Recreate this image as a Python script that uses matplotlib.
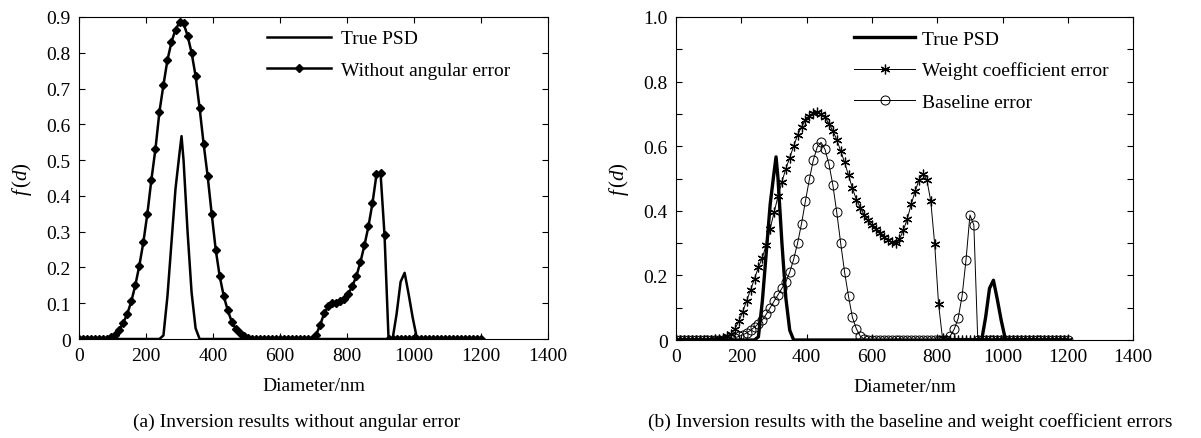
#!/usr/bin/env python3
"""Inversion results: true PSD vs. recovered PSD, with and without measurement errors."""

import matplotlib
matplotlib.use("Agg")
import matplotlib.pyplot as plt
import numpy as np

plt.rcParams["font.family"] = ["Liberation Serif", "DejaVu Serif"]
plt.rcParams["mathtext.fontset"] = "custom"
plt.rcParams["mathtext.rm"] = "Liberation Serif"
plt.rcParams["mathtext.it"] = "Liberation Serif:italic"

# inversion grid, 12 nm step from 0 to 1200 nm
DIAMETER = np.arange(0, 1201, 12)

# true PSD polyline vertices (same in both panels)
TRUE_D = [0, 240, 252, 264, 276, 288, 300, 306, 312, 324, 336, 348, 360,
          924, 936, 948, 960, 972, 984, 996, 1008, 1020, 1200]
TRUE_F = [0, 0, 0.01, 0.12, 0.27, 0.42, 0.52, 0.567, 0.50, 0.30, 0.13, 0.03, 0,
          0, 0, 0.07, 0.16, 0.185, 0.125, 0.06, 0.005, 0, 0]

# (a) without angular error
NO_ERR = [
    0, 0, 0, 0, 0, 0, 0, 0, 0.005, 0.012, 0.026, 0.045,
    0.07, 0.105, 0.15, 0.205, 0.27, 0.35, 0.445, 0.53, 0.635, 0.71, 0.78, 0.83,
    0.865, 0.885, 0.882, 0.848, 0.8, 0.735, 0.645, 0.545, 0.455, 0.35, 0.25, 0.175,
    0.12, 0.08, 0.048, 0.028, 0.016, 0.009, 0.004, 0.001, 0, 0, 0, 0,
    0, 0, 0, 0, 0, 0, 0, 0, 0, 0, 0, 0.012,
    0.04, 0.072, 0.092, 0.1, 0.102, 0.105, 0.112, 0.127, 0.148, 0.176, 0.215, 0.262,
    0.315, 0.38, 0.46, 0.465, 0.29, 0, 0, 0, 0, 0, 0, 0,
    0, 0, 0, 0, 0, 0, 0, 0, 0, 0, 0, 0,
    0, 0, 0, 0, 0,
]

# (b) weight coefficient error
WEIGHT_ERR = [
    0, 0, 0, 0, 0, 0, 0, 0, 0, 0, 0.002, 0.004,
    0.007, 0.012, 0.02, 0.035, 0.058, 0.088, 0.122, 0.155, 0.19, 0.225, 0.255, 0.295,
    0.345, 0.395, 0.445, 0.49, 0.53, 0.565, 0.6, 0.635, 0.66, 0.68, 0.695, 0.703,
    0.707, 0.7, 0.69, 0.67, 0.648, 0.62, 0.585, 0.55, 0.51, 0.47, 0.435, 0.41,
    0.387, 0.37, 0.355, 0.343, 0.331, 0.32, 0.31, 0.302, 0.3, 0.312, 0.34, 0.375,
    0.42, 0.46, 0.496, 0.515, 0.496, 0.43, 0.297, 0.11, 0.005, 0, 0, 0,
    0, 0, 0, 0, 0, 0, 0, 0, 0, 0, 0, 0,
    0, 0, 0, 0, 0, 0, 0, 0, 0, 0, 0, 0,
    0, 0, 0, 0, 0,
]

# (b) baseline error
BASELINE_ERR = [
    0, 0, 0, 0, 0, 0, 0, 0, 0, 0, 0, 0,
    0.001, 0.002, 0.004, 0.007, 0.011, 0.016, 0.022, 0.03, 0.04, 0.05, 0.062, 0.08,
    0.1, 0.12, 0.14, 0.16, 0.18, 0.21, 0.25, 0.3, 0.36, 0.43, 0.497, 0.556,
    0.597, 0.612, 0.59, 0.545, 0.48, 0.395, 0.3, 0.21, 0.135, 0.07, 0.035, 0.012,
    0.003, 0, 0, 0, 0, 0, 0, 0, 0, 0, 0, 0,
    0, 0, 0, 0, 0, 0, 0, 0, 0, 0, 0.013, 0.034,
    0.067, 0.137, 0.248, 0.387, 0.356, 0, 0, 0, 0, 0, 0, 0,
    0, 0, 0, 0, 0, 0, 0, 0, 0, 0, 0, 0,
    0, 0, 0, 0, 0,
]

X_TICKS = [0, 200, 400, 600, 800, 1000, 1200, 1400]
FS = 14
ASTERISK = (6, 2, 0)  # line-drawn asterisk like MATLAB '*'


def style_axes(ax, yticks, ylabels, ymax):
    ax.set_xlim(0, 1400)
    ax.set_ylim(0, ymax)
    ax.set_xticks(X_TICKS)
    ax.set_xticklabels([str(t) for t in X_TICKS])
    ax.set_yticks(yticks)
    ax.set_yticklabels(ylabels)
    ax.tick_params(direction="in", top=True, right=True, length=4, width=0.8,
                   labelsize=FS, pad=6)
    for sp in ax.spines.values():
        sp.set_linewidth(0.8)
    ax.set_xlabel("Diameter/nm", fontsize=FS, labelpad=9)
    ax.set_ylabel(r"$f\,(d)$", fontsize=FS + 1, labelpad=9)


fig = plt.figure(figsize=(12.01, 4.39), dpi=100)

# (a)
ax1 = fig.add_axes([0.0658, 0.2255, 0.3905, 0.7335])
ax1.plot(TRUE_D, TRUE_F, color="black", lw=1.8, label="True PSD")
ax1.plot(DIAMETER, NO_ERR, color="black", lw=1.8, marker="D", ms=4.5,
         label="Without angular error")
yt1 = [0, 0.1, 0.2, 0.3, 0.4, 0.5, 0.6, 0.7, 0.8, 0.9]
style_axes(ax1, yt1, ["0"] + [f"{v:.1f}" for v in yt1[1:]], 0.9)
ax1.legend(loc="upper left", bbox_to_anchor=(0.40, 0.96), frameon=False,
           handlelength=3.3, handletextpad=0.5, labelspacing=0.7,
           borderaxespad=0, borderpad=0, fontsize=FS)

# (b)
ax2 = fig.add_axes([0.563, 0.2232, 0.3805, 0.7358])
ax2.plot(TRUE_D, TRUE_F, color="black", lw=2.4, label="True PSD")
ax2.plot(DIAMETER, WEIGHT_ERR, color="black", lw=0.7, marker=ASTERISK, ms=7,
         mew=0.9, label="Weight coefficient error")
ax2.plot(DIAMETER, BASELINE_ERR, color="black", lw=0.7, marker="o", ms=6.5,
         mfc="none", mew=0.7, label="Baseline error")
yt2 = [0, 0.1, 0.2, 0.3, 0.4, 0.5, 0.6, 0.7, 0.8, 0.9, 1.0]
yl2 = ["0", "", "0.2", "", "0.4", "", "0.6", "", "0.8", "", "1.0"]
style_axes(ax2, yt2, yl2, 1.0)
ax2.legend(loc="upper left", bbox_to_anchor=(0.39, 0.96), frameon=False,
           handlelength=3.1, handletextpad=0.4, labelspacing=0.72,
           borderaxespad=0, borderpad=0, fontsize=FS)

fig.text(0.247, 0.028, "(a) Inversion results without angular error",
         ha="center", fontsize=FS)
fig.text(0.758, 0.028, "(b) Inversion results with the baseline and weight coefficient errors",
         ha="center", fontsize=FS)

fig.savefig("out.png", dpi=100)
